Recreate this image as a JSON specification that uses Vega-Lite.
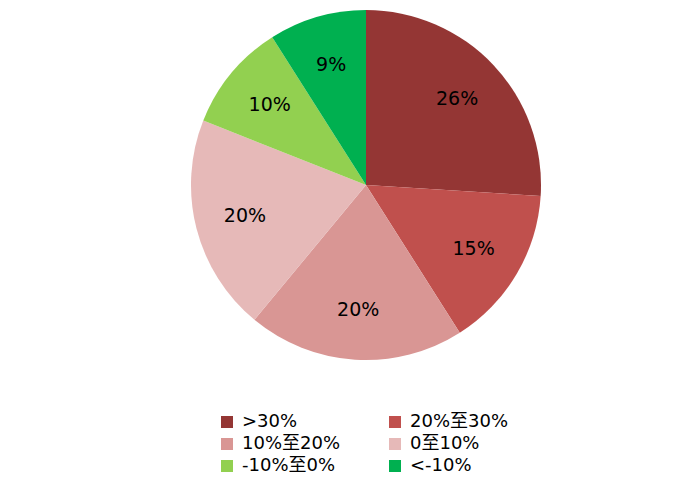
{
  "$schema": "https://vega.github.io/schema/vega-lite/v6.json",
  "width": 350,
  "height": 350,
  "autosize": "none",
  "padding": {"left": 191, "top": 10, "right": 159, "bottom": 128},
  "background": "white",
  "data": {
    "values": [
      {"idx": 1, "category": ">30%", "value": 26, "label": "26%"},
      {"idx": 2, "category": "20%至30%", "value": 15, "label": "15%"},
      {"idx": 3, "category": "10%至20%", "value": 20, "label": "20%"},
      {"idx": 4, "category": "0至10%", "value": 20, "label": "20%"},
      {"idx": 5, "category": "-10%至0%", "value": 10, "label": "10%"},
      {"idx": 6, "category": "<-10%", "value": 9, "label": "9%"}
    ]
  },
  "encoding": {
    "theta": {"field": "value", "type": "quantitative", "stack": true},
    "order": {"field": "idx", "type": "quantitative"},
    "color": {
      "field": "category",
      "type": "nominal",
      "scale": {
        "domain": [">30%", "20%至30%", "10%至20%", "0至10%", "-10%至0%", "<-10%"],
        "range": ["#943634", "#c0504d", "#d99694", "#e6b9b8", "#92d050", "#00b050"]
      },
      "legend": {
        "title": null,
        "orient": "none",
        "legendX": 27,
        "legendY": 403,
        "direction": "horizontal",
        "columns": 2,
        "padding": 0,
        "symbolType": "square",
        "symbolSize": 144,
        "symbolStrokeWidth": 0,
        "labelFontSize": 18,
        "labelFont": "DejaVu Sans, Noto Sans CJK SC",
        "labelColor": "#000000",
        "labelOffset": 6,
        "rowPadding": 4,
        "columnPadding": 45
      }
    }
  },
  "layer": [
    {"mark": {"type": "arc", "outerRadius": 175}},
    {
      "mark": {"type": "text", "radius": 125, "fontSize": 19, "font": "DejaVu Sans", "color": "#000000"},
      "encoding": {
        "text": {"field": "label", "type": "nominal"},
        "color": {"value": "#000000"}
      }
    }
  ],
  "config": {"view": {"stroke": null}}
}
